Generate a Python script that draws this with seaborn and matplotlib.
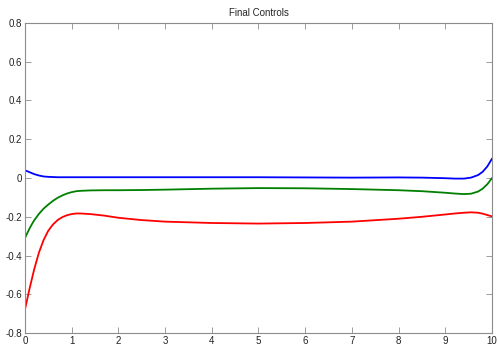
import matplotlib
matplotlib.use("Agg")
import matplotlib.pyplot as plt
import seaborn as sns
import pandas as pd

# sample times and control values
t = [0, 0.05, 0.1, 0.15, 0.2, 0.3, 0.4, 0.5, 0.6, 0.7, 0.8, 0.9, 1.0, 1.1, 1.2,
     1.4, 1.7, 2, 2.5, 3, 4, 5, 6, 7, 8, 8.5, 9, 9.2, 9.4, 9.55, 9.7, 9.8, 9.9, 10]
u_red = [-0.68, -0.625, -0.57, -0.52, -0.47, -0.385, -0.32, -0.272, -0.24, -0.217,
         -0.202, -0.192, -0.186, -0.183, -0.183, -0.186, -0.194, -0.205, -0.217,
         -0.225, -0.232, -0.235, -0.232, -0.225, -0.21, -0.20, -0.188, -0.183,
         -0.179, -0.177, -0.179, -0.184, -0.191, -0.198]
u_green = [-0.31, -0.285, -0.26, -0.238, -0.218, -0.185, -0.158, -0.137, -0.118,
           -0.102, -0.09, -0.08, -0.073, -0.068, -0.066, -0.064, -0.063, -0.063,
           -0.062, -0.06, -0.055, -0.052, -0.053, -0.057, -0.063, -0.068, -0.076,
           -0.08, -0.083, -0.081, -0.07, -0.055, -0.032, 0.0]
u_blue = [0.04, 0.035, 0.03, 0.025, 0.02, 0.013, 0.008, 0.006, 0.005, 0.004,
          0.004, 0.004, 0.004, 0.004, 0.004, 0.004, 0.004, 0.004, 0.004, 0.004,
          0.004, 0.004, 0.003, 0.002, 0.003, 0.002, -0.001, -0.003, -0.003, 0.002,
          0.015, 0.032, 0.06, 0.1]

xticks = list(range(0, 11))
yticks = [-0.8, -0.6, -0.4, -0.2, 0, 0.2, 0.4, 0.6, 0.8]
ytick_labels = ["-0.8", "-0.6", "-0.4", "-0.2", "0", "0.2", "0.4", "0.6", "0.8"]

sns.set_style("white")
plt.rcParams['font.family'] = ['Liberation Sans', 'DejaVu Sans']

df = pd.DataFrame({'t': t, 'red': u_red, 'green': u_green, 'blue': u_blue})

fig = plt.figure(figsize=(4.98, 3.47), dpi=100)
ax = fig.add_axes([0.050, 0.040, 0.938, 0.894])

sns.lineplot(data=df, x='t', y='blue', color='#0000ff', lw=1.3, ax=ax)
sns.lineplot(data=df, x='t', y='green', color='#007f00', lw=1.3, ax=ax)
sns.lineplot(data=df, x='t', y='red', color='#ff0000', lw=1.3, ax=ax)

ax.set_xlim(0, 10)
ax.set_ylim(-0.8, 0.8)
ax.set_xticks(xticks)
ax.set_xticklabels([str(v) for v in xticks])
ax.set_yticks(yticks)
ax.set_yticklabels(ytick_labels)
ax.set_xlabel('')
ax.set_ylabel('')
ax.set_title('Final Controls', fontsize=7, pad=5)

for s in ax.spines.values():
    s.set_visible(True)
    s.set_color('#8c8c8c')
    s.set_linewidth(0.8)
ax.tick_params(direction='in', length=4, width=0.6, color='#8c8c8c',
               bottom=True, left=True, top=True, right=True,
               labelsize=7, labelcolor='#222222', pad=2)

fig.savefig('out.png', dpi=100)
